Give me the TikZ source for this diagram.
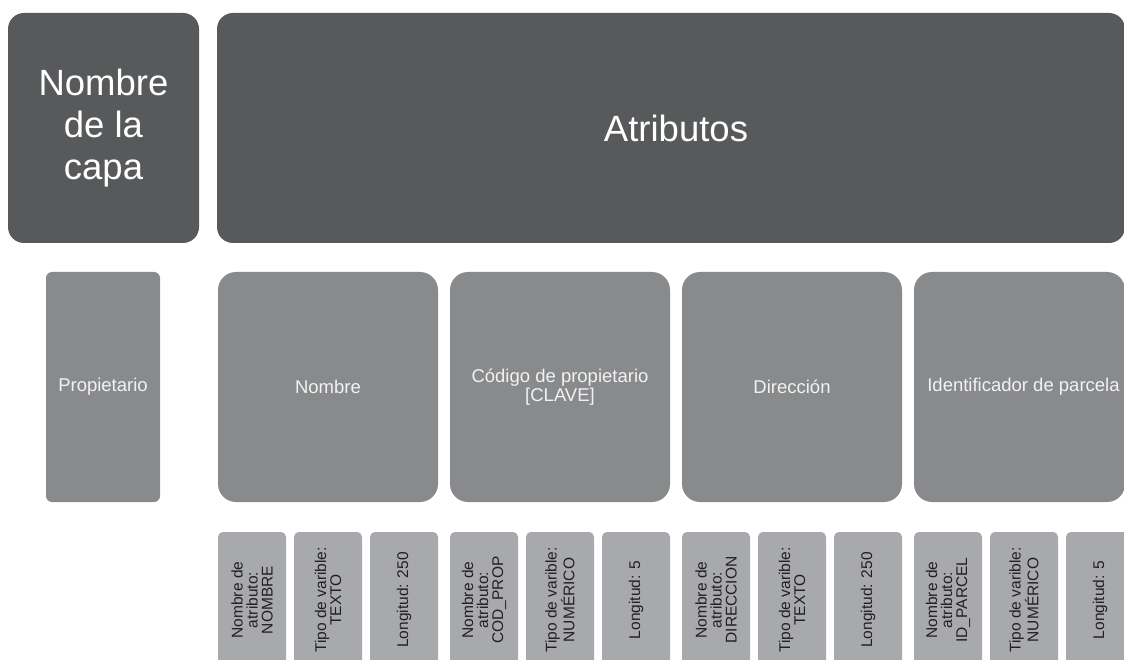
\documentclass[tikz,border=0pt]{standalone}
\usepackage{fontspec}
\setmainfont{Liberation Sans}
\definecolor{darkbox}{HTML}{58595B}
\definecolor{midbox}{HTML}{898A8C}
\definecolor{lightbox}{HTML}{A7A9AC}
\definecolor{leaftext}{HTML}{231F20}
\definecolor{softwhite}{HTML}{F2F2F2}

\begin{document}
\begin{tikzpicture}[x=1pt,y=-1pt,
  headbox/.style={fill=darkbox, draw=none, rounded corners=16pt, text=white,
    inner sep=0pt, align=center, minimum height=230pt,
    font=\fontsize{36.5}{42}\selectfont},
  layerbox/.style={fill=midbox, draw=none, rounded corners=6pt, text=softwhite,
    inner sep=0pt, align=center, minimum width=114pt, minimum height=230pt,
    font=\fontsize{18.5}{16}\selectfont},
  entbox/.style={fill=midbox, draw=none, rounded corners=18pt, text=softwhite,
    inner sep=0pt, align=center, minimum height=230pt,
    font=\fontsize{18.5}{16}\selectfont},
  leafbox/.style={fill=lightbox, draw=none, rounded corners=5pt, text=leaftext,
    inner sep=0pt, align=center, rotate=90, minimum width=136pt, minimum height=68pt,
    font=\fontsize{15.5}{15}\selectfont}
]
\useasboundingbox (0,0) rectangle (1124,660);
\clip (0,0) rectangle (1124,660);

% header row
\node[headbox, minimum width=191pt] (capa) at (103.5,128) {Nombre\\de la\\capa};
\node[headbox, minimum width=908pt] (atrib) at (671,128) {\hspace*{10pt}Atributos};

% layer and its fields
\node[layerbox] (prop) at (103,387) {Propietario};
\node[entbox, minimum width=220pt] (nom) at (328,387) {Nombre};
\node[entbox, minimum width=220pt] (cod) at (560,387) {Código de propietario\\{}[CLAVE]};
\node[entbox, minimum width=220pt] (dir) at (792,387) {Dirección};
\node[entbox, minimum width=211pt] (idp) at (1019.5,387) {\hspace*{8pt}Identificador de parcela};

% field properties
\node[leafbox] (nom1) at (252,600) {Nombre de\\atributo:\\NOMBRE};
\node[leafbox] (nom2) at (328,600) {Tipo de varible:\\TEXTO};
\node[leafbox] (nom3) at (404,600) {Longitud: 250};

\node[leafbox] (cod1) at (484,600) {Nombre de\\atributo:\\COD\_PROP};
\node[leafbox] (cod2) at (560,600) {Tipo de varible:\\NUMÉRICO};
\node[leafbox] (cod3) at (636,600) {Longitud: 5};

\node[leafbox] (dir1) at (716,600) {Nombre de\\atributo:\\DIRECCION};
\node[leafbox] (dir2) at (792,600) {Tipo de varible:\\TEXTO};
\node[leafbox] (dir3) at (868,600) {Longitud: 250};

\node[leafbox] (idp1) at (948,600) {Nombre de\\atributo:\\ID\_PARCEL};
\node[leafbox] (idp2) at (1024,600) {Tipo de varible:\\NUMÉRICO};
\node[leafbox] (idp3) at (1100,600) {Longitud: 5};
\end{tikzpicture}
\end{document}
